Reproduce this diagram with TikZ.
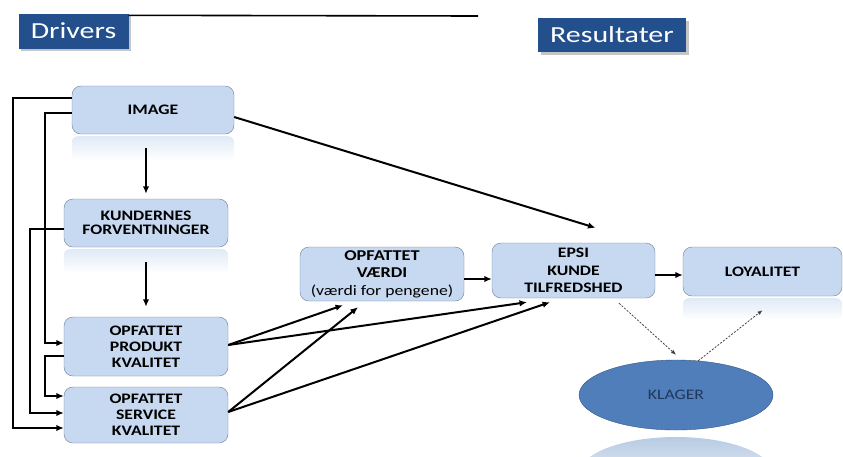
\documentclass[tikz,border=0pt]{standalone}
\usepackage{fontspec}
\setmainfont{Carlito}[FakeStretch=1.22]
\newfontfamily\hdrfont{Carlito}[FakeStretch=1.3]
\usetikzlibrary{arrows.meta,shapes.geometric,shadows}
\definecolor{boxfill}{RGB}{198,217,240}
\definecolor{boxline}{RGB}{110,125,150}
\definecolor{hdrfill}{RGB}{35,80,140}
\definecolor{klagerfill}{RGB}{79,126,186}
\definecolor{klagerline}{RGB}{55,88,135}
\definecolor{klagertext}{RGB}{32,55,92}
\begin{document}
\begin{tikzpicture}[x=1pt, y=-1pt,
    box/.style={draw=boxline, fill=boxfill, rounded corners=9pt, align=center, inner sep=2pt,
        minimum width=164pt, minimum height=48pt, font=\bfseries\fontsize{14.5}{16}\selectfont},
    header/.style={fill=hdrfill, text=white, inner sep=0pt, minimum height=35pt,
        font=\hdrfont\fontsize{23}{26}\selectfont,
        drop shadow={shadow xshift=2.5pt, shadow yshift=-2.5pt, fill=black!45}},
    klagerstyle/.style={ellipse, draw=klagerline, fill=klagerfill, text=klagertext, inner sep=0pt,
        minimum width=194pt, minimum height=70pt, font=\fontsize{14.5}{16}\selectfont},
    arr/.style={-{Latex[length=7.5pt,width=6.5pt]}, line width=2pt},
    dots/.style={-{Latex[length=5pt,width=4pt]}, line width=0.8pt, dash pattern=on 2pt off 1.5pt, black!75},
    reflect/.style={top color=boxfill!55!white, bottom color=white, rounded corners=6pt}]
    \useasboundingbox (0,0) rectangle (843,456);

    \node[header, minimum width=110pt] (drivers) at (73.5, 31) {Drivers};
    \node[header, minimum width=148pt, minimum height=34pt] (resultater) at (612, 35) {Resultater};
    \coordinate (lineend) at (478, 16);
    \draw[line width=1.6pt] ([yshift=-2pt]drivers.north east) -- (lineend);

    \node[box, minimum width=162pt] (image) at (153, 110) {IMAGE};
    \node[box, font=\bfseries\fontsize{14.5}{13.5}\selectfont] (kund) at (146, 223) {KUNDERNES\\FORVENTNINGER};
    \node[box, minimum height=59pt] (prod) at (146, 346.5) {OPFATTET\\PRODUKT\\KVALITET};
    \node[box, minimum height=56pt] (serv) at (146, 415) {OPFATTET\\SERVICE\\KVALITET};
    \node[box, minimum height=54pt, font=\bfseries\fontsize{15}{17.5}\selectfont] (vaerdi) at (382, 274)
        {OPFATTET\\VÆRDI\\{\mdseries\fontsize{14.5}{17.5}\selectfont (værdi for pengene)}};
    \node[box, minimum width=163pt, minimum height=55pt, font=\bfseries\fontsize{14.5}{17.5}\selectfont] (epsi) at (573.5, 270.5)
        {EPSI\\KUNDE\\TILFREDSHED};
    \node[box, minimum width=159pt, minimum height=49pt] (loy) at (762.5, 271.5) {LOYALITET};
    \node[klagerstyle] (klager) at (676, 395) {KLAGER};

    \shade[reflect] ([yshift=-2pt]image.south west) rectangle ([yshift=-26pt]image.south east);
    \shade[reflect] ([yshift=-2pt]kund.south west) rectangle ([yshift=-26pt]kund.south east);
    \shade[reflect] ([yshift=-2pt]loy.south west) rectangle ([yshift=-24pt]loy.south east);
    \begin{scope}
        \clip (570, 436) rectangle (790, 456);
        \shade[top color=klagerfill!40!white, bottom color=white] (676, 474) ellipse [x radius=97, y radius=37];
    \end{scope}

    \draw[arr, shorten <=14pt, shorten >=5pt] (kund |- image.south) -- (kund.north);
    \draw[arr, shorten <=15pt, shorten >=10pt] (kund.south) -- (prod.north);

    \draw[arr] ([yshift=12pt]image.west) -- ++(-59, 0) |- ([yshift=-13pt]serv.west);
    \draw[arr] ([yshift=-3pt]image.west) -- ++(-27, 0) |- ([yshift=3.5pt]prod.west);
    \draw[arr] ([yshift=-6pt]kund.west) -- ++(-34, 0) |- ([yshift=2pt]serv.west);
    \draw[arr] ([yshift=-9.5pt]prod.west) -- ++(-19, 0) |- ([yshift=19pt]serv.west);

    \coordinate (v1) at ([xshift=-39pt, yshift=-4pt]vaerdi.south);
    \coordinate (v2) at ([xshift=-24pt, yshift=-6pt]vaerdi.south);
    \coordinate (e1) at ([xshift=-46.5pt, yshift=-4pt]epsi.south);
    \coordinate (e2) at ([xshift=-23.5pt, yshift=-4pt]epsi.south);
    \coordinate (e3) at ([xshift=22pt, yshift=15pt]epsi.north);
    \draw[arr] ([yshift=1.5pt]prod.east) -- (v1);
    \draw[arr] ([yshift=1.5pt]prod.east) -- (e1);
    \draw[arr] ([yshift=3pt]serv.east) -- (v2);
    \draw[arr] ([yshift=3pt]serv.east) -- (e2);
    \draw[arr] ([yshift=-7pt]image.east) -- (e3);

    \draw[arr] ([yshift=-5pt]vaerdi.east) -- ([yshift=-8.5pt]epsi.west);
    \draw[arr, line width=2.6pt] ([yshift=-4.5pt]epsi.east) -- ([yshift=-3.5pt]loy.west);

    \coordinate (k1) at ([xshift=45.5pt, yshift=-5pt]epsi.south);
    \coordinate (k2) at ([yshift=5pt]klager.north);
    \coordinate (l1) at ([yshift=-14pt]loy.south);
    \draw[dots] (k1) -- (k2);
    \draw[dots] (klager.57) -- (l1);
\end{tikzpicture}
\end{document}
